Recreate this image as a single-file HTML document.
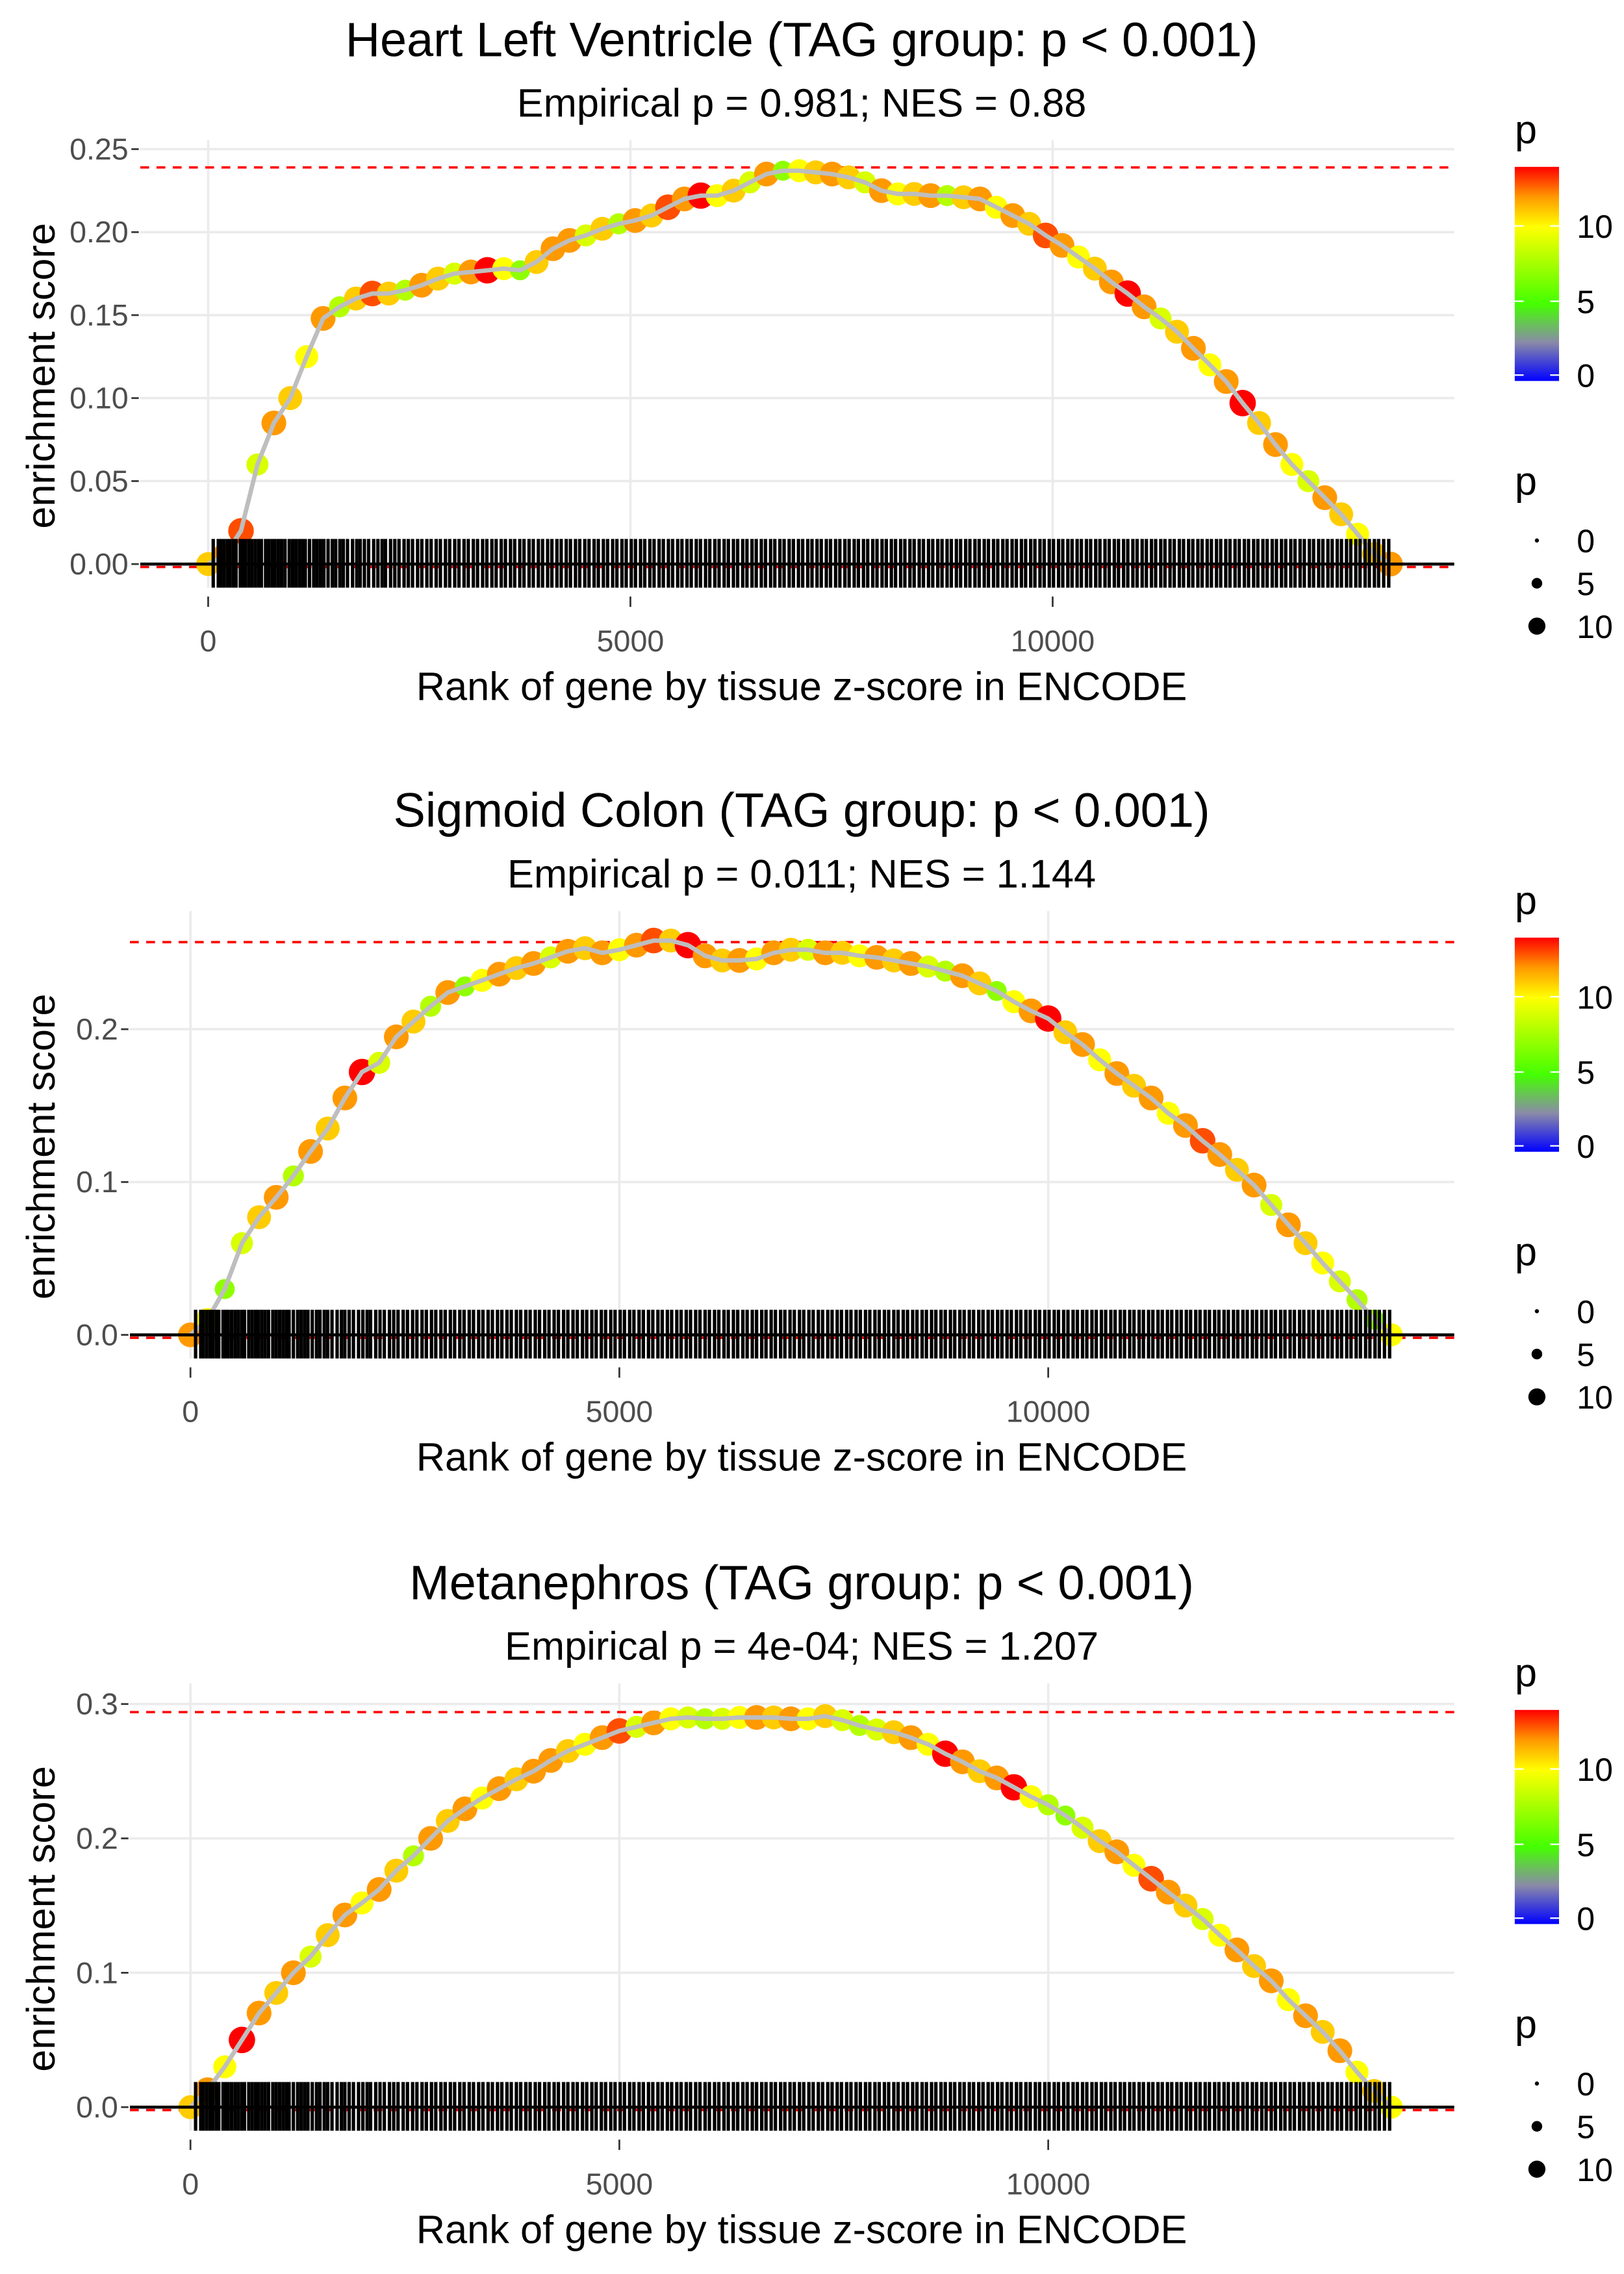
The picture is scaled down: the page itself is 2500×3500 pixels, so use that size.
<!DOCTYPE html>
<html><head><meta charset="utf-8"><style>
html,body{margin:0;padding:0;background:#fff}
svg{display:block;font-family:"Liberation Sans",sans-serif}
</style></head><body>
<svg id="chart" width="2500" height="3500" viewBox="0 0 1100 1540" xmlns="http://www.w3.org/2000/svg">
<defs>
<linearGradient id="cbar" x1="0" y1="1" x2="0" y2="0">
<stop offset="0" stop-color="#0000ff"/><stop offset="0.18" stop-color="#8a8aa8"/><stop offset="0.36" stop-color="#44ff00"/>
<stop offset="0.72" stop-color="#ffff00"/><stop offset="0.86" stop-color="#ff9900"/><stop offset="1" stop-color="#ff0000"/>
</linearGradient>
</defs>
</svg>
<script>
const xTicks = [0, 5000, 10000];
const titles = ["Heart Left Ventricle (TAG group: p < 0.001)","Sigmoid Colon (TAG group: p < 0.001)","Metanephros (TAG group: p < 0.001)"];
const subtitles = ["Empirical p = 0.981; NES = 0.88","Empirical p = 0.011; NES = 1.144","Empirical p = 4e-04; NES = 1.207"];
const yTicks1 = [0, 0.05, 0.10, 0.15, 0.20, 0.25];
const yTickLabels1 = ["0.00","0.05","0.10","0.15","0.20","0.25"];
const yTicks2 = [0, 0.1, 0.2];
const yTickLabels2 = ["0.0","0.1","0.2"];
const yTicks3 = [0, 0.1, 0.2, 0.3];
const yTickLabels3 = ["0.0","0.1","0.2","0.3"];
const maxES = [0.239, 0.257, 0.294];
const es1 = [0,0.005,0.02,0.06,0.085,0.10,0.125,0.148,0.155,0.16,0.163,0.163,0.165,0.168,0.172,0.175,0.176,0.177,0.178,0.177,0.182,0.19,0.195,0.198,0.202,0.205,0.207,0.21,0.215,0.22,0.222,0.222,0.225,0.23,0.235,0.237,0.237,0.236,0.235,0.233,0.23,0.225,0.223,0.223,0.222,0.222,0.221,0.22,0.215,0.21,0.205,0.198,0.192,0.185,0.178,0.17,0.163,0.155,0.148,0.14,0.13,0.12,0.11,0.097,0.085,0.072,0.06,0.05,0.04,0.03,0.018,0.006,0];
const es2 = [0,0.01,0.03,0.06,0.077,0.09,0.104,0.12,0.135,0.155,0.172,0.178,0.195,0.205,0.215,0.224,0.228,0.232,0.236,0.24,0.243,0.247,0.251,0.253,0.25,0.252,0.255,0.258,0.258,0.255,0.248,0.245,0.245,0.246,0.25,0.252,0.252,0.25,0.25,0.248,0.247,0.245,0.243,0.241,0.238,0.235,0.23,0.225,0.218,0.212,0.207,0.198,0.19,0.18,0.171,0.163,0.155,0.145,0.137,0.127,0.118,0.108,0.098,0.085,0.072,0.06,0.047,0.035,0.023,0.01,0];
const es3 = [0,0.013,0.03,0.05,0.07,0.085,0.1,0.112,0.128,0.143,0.152,0.162,0.176,0.187,0.2,0.213,0.222,0.23,0.237,0.244,0.25,0.258,0.265,0.27,0.275,0.28,0.283,0.286,0.289,0.29,0.289,0.289,0.29,0.29,0.29,0.289,0.289,0.291,0.288,0.284,0.281,0.279,0.275,0.27,0.263,0.257,0.25,0.245,0.238,0.231,0.225,0.217,0.208,0.198,0.19,0.18,0.17,0.16,0.15,0.14,0.128,0.117,0.105,0.094,0.08,0.068,0.056,0.042,0.026,0.012,0];
const p1 = [11,12,13,9,12,11,10,12,8,11,13,11,8,12,11,9,12,14,10,7,11,12,12,9,11,8,12,11,13,12,14,10,11,9,12,7,10,11,12,11,9,12,10,11,12,8,11,12,10,12,11,13,12,10,11,12,14,12,9,11,12,10,12,14,11,12,10,9,12,11,10];
const p2 = [12,10,7,9,11,12,8,12,11,12,14,9,12,11,8,12,7,10,12,11,12,9,12,11,12,10,12,13,11,14,12,11,12,10,12,11,9,12,11,10,12,11,12,9,8,12,11,7,10,12,14,11,12,10,12,11,12,10,12,13,12,11,12,9,12,11,10,9,8,7,10];
const p3 = [11,12,10,14,12,11,12,9,11,12,10,12,11,8,12,11,12,10,12,11,12,12,11,10,12,13,9,12,10,9,8,9,10,12,11,12,10,11,9,8,9,11,12,10,14,12,11,12,14,10,8,7,9,11,12,10,13,12,11,9,10,12,11,12,10,12,11,12,10,11,10];
const rugRanks = [60,120,150,190,230,260,300,330,380,410,440,480,520,560,600,630,680,720,760,790,830,870,910,960,1000,1040,1080,1120,1150,1200,1250,1290,1330,1370,1420,1470,1510,1560,1600,1650,1710,1760,1800,1850,1900,1960,2010,2060,2100,2160,2210,2260,2320,2370,2420,2480,2530,2590,2640,2700,2750,2810,2860,2920,2970,3030,3080,3140,3190,3250,3300,3360,3410,3470,3520,3580,3630,3690,3740,3800,3850,3910,3960,4020,4070,4130,4180,4240,4290,4350,4400,4460,4510,4570,4620,4680,4730,4790,4840,4900,4950,5010,5060,5120,5170,5230,5280,5340,5390,5450,5500,5560,5610,5670,5720,5780,5830,5890,5940,6000,6050,6110,6160,6220,6270,6330,6380,6440,6490,6550,6600,6660,6710,6770,6820,6880,6930,6990,7040,7100,7150,7210,7260,7320,7370,7430,7480,7540,7590,7650,7700,7760,7810,7870,7920,7980,8030,8090,8140,8200,8250,8310,8360,8420,8470,8530,8580,8640,8690,8750,8800,8860,8910,8970,9020,9080,9130,9190,9240,9300,9350,9410,9460,9520,9570,9630,9680,9740,9790,9850,9900,9960,10010,10070,10120,10180,10230,10290,10340,10400,10450,10510,10560,10620,10670,10730,10780,10840,10890,10950,11000,11060,11110,11170,11220,11280,11330,11390,11440,11500,11550,11610,11660,11720,11770,11830,11880,11940,11990,12050,12100,12160,12210,12270,12320,12380,12430,12490,12540,12600,12650,12710,12760,12820,12870,12930,12980,13040,13090,13150,13200,13260,13310,13370,13420,13480,13530,13590,13640,13700,13750,13810,13860,13920,13980];

const NS="http://www.w3.org/2000/svg";
const svg=document.getElementById('chart');
function mk(tag,attrs,parent){const e=document.createElementNS(NS,tag);for(const k in attrs)e.setAttribute(k,attrs[k]);(parent||svg).appendChild(e);return e;}
function txt(s,attrs,parent){const e=mk('text',attrs,parent);e.textContent=s;return e;}
function lerp(a,b,t){return Math.round(a+(b-a)*t);}
function hex(c){return [parseInt(c.slice(1,3),16),parseInt(c.slice(3,5),16),parseInt(c.slice(5,7),16)];}
const cstops=[[0,'#0000ff'],[2.5,'#8a8aa8'],[5,'#44ff00'],[10,'#ffff00'],[12,'#ff9900'],[14,'#ff0000']];
function pColor(p){for(let i=1;i<cstops.length;i++){if(p<=cstops[i][0]){const a=hex(cstops[i-1][1]),b=hex(cstops[i][1]);const t=(p-cstops[i-1][0])/(cstops[i][0]-cstops[i-1][0]);return `rgb(${lerp(a[0],b[0],t)},${lerp(a[1],b[1],t)},${lerp(a[2],b[2],t)})`;}}return '#ff0000';}
function pRadius(p){return 1.5+Math.sqrt(p/10)*6.3;}

const panels=[
 {off:0,left:95,x0:141,px5000:286,y0:382,perUnit:1124,yT:yTicks1,yL:yTickLabels1,es:es1,p:p1},
 {off:522,left:88,x0:129,px5000:290.5,y0:904,perUnit:1035,yT:yTicks2,yL:yTickLabels2,es:es2,p:p2},
 {off:1045,left:88,x0:129,px5000:290.5,y0:1427,perUnit:910,yT:yTicks3,yL:yTickLabels3,es:es3,p:p3}
];
panels.forEach((P,k)=>{
 const g=mk('g',{});
 
 
 const xs=r=>P.x0+r/5000*P.px5000;
 const ys=v=>P.y0-v*P.perUnit;
 const top=95+P.off, bottom=398+P.off, right=985;
 const t=txt(titles[k],{x:543,y:38+P.off,'font-size':32.5,'text-anchor':'middle',fill:'#000'},g);
 
 
 const st=txt(subtitles[k],{x:543,y:79+P.off,'font-size':27,'text-anchor':'middle',fill:'#000'},g);
 
 
 P.yT.forEach((v,i)=>{
  const gl=mk('line',{x1:P.left,x2:right,y1:ys(v),y2:ys(v),stroke:'#ebebeb','stroke-width':1.6},g);
  
  
  mk('line',{x1:P.left-6,x2:P.left-1,y1:ys(v),y2:ys(v),stroke:'#333','stroke-width':1.2},g);
  const tl=txt(P.yL[i],{x:P.left-8,y:ys(v)+7,'font-size':20.5,'text-anchor':'end',fill:'#4d4d4d'},g);
  
  
 });
 xTicks.forEach(v=>{
  const gl=mk('line',{x1:xs(v),x2:xs(v),y1:top,y2:bottom,stroke:'#ebebeb','stroke-width':1.6},g);
  
  
  mk('line',{x1:xs(v),x2:xs(v),y1:bottom+6,y2:bottom+13,stroke:'#333','stroke-width':1.2},g);
  const tl=txt(String(v),{x:xs(v),y:bottom+43,'font-size':20.5,'text-anchor':'middle',fill:'#4d4d4d'},g);
  
  
 });
 const xt=txt('Rank of gene by tissue z-score in ENCODE',{x:543,y:474+P.off,'font-size':27,'text-anchor':'middle',fill:'#000'},g);
 
 
 const yt=txt('enrichment score',{x:0,y:0,'font-size':27,'text-anchor':'middle',fill:'#000',transform:`translate(37,${(top+bottom)/2+8}) rotate(-90)`},g);
 
 
 const dm=mk('line',{x1:P.left,x2:right,y1:ys(maxES[k]),y2:ys(maxES[k]),stroke:'#ff0000','stroke-width':1.6,'stroke-dasharray':'6,5'},g);
 
 
 mk('line',{x1:P.left,x2:right,y1:ys(0)+2,y2:ys(0)+2,stroke:'#ff0000','stroke-width':1.6,'stroke-dasharray':'6,5'},g);
 const n=P.es.length;
 const rank=i=>i*14000/(n-1);
 P.es.forEach((v,i)=>{
  const c=mk('circle',{cx:xs(rank(i)),cy:ys(v),r:pRadius(P.p[i%P.p.length]),fill:pColor(P.p[i%P.p.length])},g);
  
  
 });
 let d='';P.es.forEach((v,i)=>{d+=(i?'L':'M')+xs(rank(i)).toFixed(1)+','+ys(v).toFixed(1);});
 const ln=mk('path',{d:d,fill:'none',stroke:'#bebebe','stroke-width':3,'stroke-linejoin':'round'},g);
 
 
 const rg=mk('g',{},g);
 
 
 rugRanks.forEach(r=>{
  const l=mk('line',{x1:xs(r),x2:xs(r),y1:ys(0)-17,y2:ys(0)+16,stroke:'#000','stroke-width':2.3},rg);
  
  
 });
 const zl=mk('line',{x1:P.left,x2:right,y1:ys(0),y2:ys(0),stroke:'#000','stroke-width':2},g);
 
 
 const lg=mk('g',{},g);
 
 
 txt('p',{x:1026,y:97+P.off,'font-size':27,fill:'#000'},lg);
 mk('rect',{x:1026,y:113+P.off,width:30,height:145,fill:'url(#cbar)'},lg);
 [[10,153],[5,204],[0,254]].forEach(a=>{
  mk('line',{x1:1026,x2:1032,y1:a[1]+P.off,y2:a[1]+P.off,stroke:'#fff','stroke-width':1},lg);
  mk('line',{x1:1050,x2:1056,y1:a[1]+P.off,y2:a[1]+P.off,stroke:'#fff','stroke-width':1},lg);
  txt(String(a[0]),{x:1068,y:a[1]+8+P.off,'font-size':22,fill:'#000'},lg);
 });
 const sg=mk('g',{},g);
 
 
 txt('p',{x:1026,y:335+P.off,'font-size':27,fill:'#000'},sg);
 [[0,366,1.4],[5,395,3.6],[10,424,5.8]].forEach(a=>{
  mk('ellipse',{cx:1041,cy:a[1]+P.off,rx:a[2],ry:a[2],fill:'#000'},sg);
  txt(String(a[0]),{x:1068,y:a[1]+8+P.off,'font-size':22,fill:'#000'},sg);
 });
});
</script>
</body></html>
